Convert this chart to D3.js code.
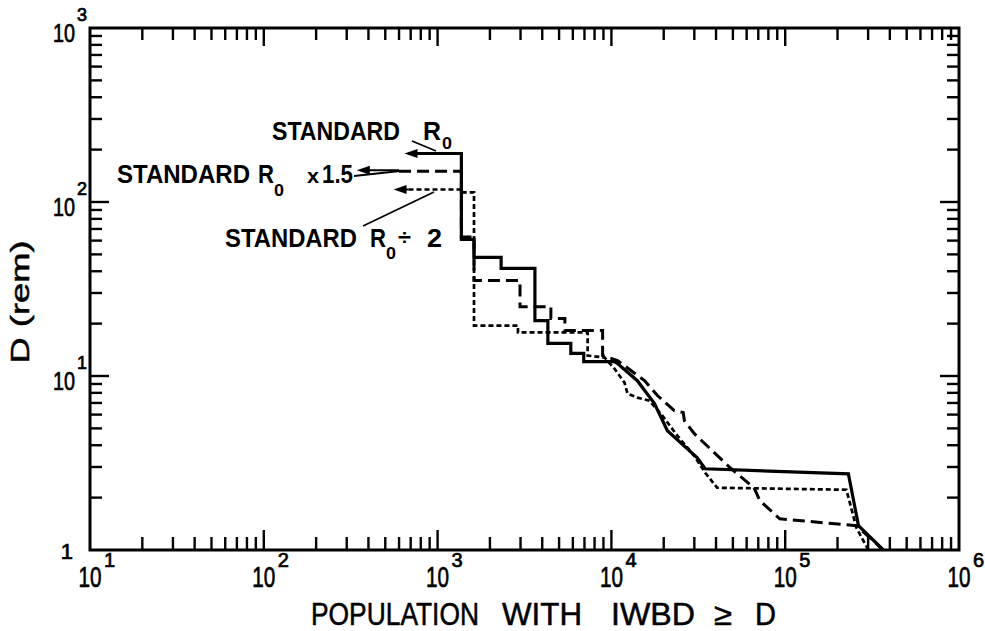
<!DOCTYPE html>
<html><head><meta charset="utf-8">
<script src="https://cdn.jsdelivr.net/npm/d3@7"></script>
<style>body{margin:0;background:#fff}text{font-family:"Liberation Sans",Arial,sans-serif;fill:#000}</style>
</head><body>
<svg id="c" width="985" height="631"></svg>
<script>
// ---- data ----
// STANDARD R0 (solid)
const popR0  = [680,1370,1370,1620,1620,2320,2320,3630,3630,4310,4310,5840,5840,6930,6930,10400,10850,14100,17700,21000,31200,34600,231000,264000,367000];
const doseR0 = [190,190,61,61,48,48,41.5,41.5,20.8,20.8,15.4,15.4,13.5,13.5,12.1,12.1,11.8,9.4,6.94,4.85,3.39,2.93,2.74,1.38,1.0];
// STANDARD R0 x1.5 (dashed)
const popR15  = [600,1370,1370,1620,1620,2980,2980,4485,4485,5400,5400,8900,8900,10850,15500,18400,23000,25900,26300,30000,48200,66100,71500,93100,257000,367000];
const doseR15 = [150,150,63,63,35.4,35.4,25,25,21.4,21.4,18.25,18.25,13.1,12.27,9.41,7.72,6.32,6.16,5.54,4.66,2.97,2.28,1.92,1.51,1.38,1.0];
// STANDARD R0 / 2 (dotted)
const popR2  = [680,1370,1370,1620,1620,2900,2900,7300,7300,9140,10430,11900,12380,14100,16550,19640,23950,29960,34640,40570,225000,257000,301000];
const doseR2 = [118,118,113.7,113.7,19.5,19.5,17.8,17.8,13.1,12.76,11.0,9.16,7.92,7.51,7.22,5.92,4.54,3.48,2.78,2.28,2.22,1.34,1.0];
// arrow tips of the labels (population)
const arrowTipPop = [645, 343, 558];
const arrowDose   = [190, 152, 118];
const arrowEndPop = [680, 600, 680];
// axis ticks
const xExponents = [1,2,3,4,5,6];
const yExponents = [1,2,3];
const xTitleWords = ["POPULATION","WITH","IWBD","\u2265","D"];
const yTitle = "D (rem)";

// ---- chart ----
const svg = d3.select('#c');
const L=90, R=959, T=28, B=550;
const x = d3.scaleLog().domain([10,1e6]).range([L,R]);
const y = d3.scaleLog().domain([1,1000]).range([B,T]);

const isMajor = v => Math.abs(Math.log10(v) - Math.round(Math.log10(v))) < 1e-9;
const g = svg.append('g');

// ticks
x.ticks().forEach(v=>{
  if (v<=10 || v>=1e6) return;
  const len = isMajor(v)?20:13;
  const px = x(v);
  g.append('line').attr('x1',px).attr('x2',px).attr('y1',B).attr('y2',B-len).attr('stroke','#000').attr('stroke-width',2.4);
  g.append('line').attr('x1',px).attr('x2',px).attr('y1',T).attr('y2',T+(isMajor(v)?18:12)).attr('stroke','#000').attr('stroke-width',2.4);
});
y.ticks().forEach(v=>{
  if (v<=1 || v>=1000) return;
  const len = isMajor(v)?19:12;
  const py = y(v);
  g.append('line').attr('x1',L).attr('x2',L+len).attr('y1',py).attr('y2',py).attr('stroke','#000').attr('stroke-width',2.4);
  g.append('line').attr('x1',R).attr('x2',R-len).attr('y1',py).attr('y2',py).attr('stroke','#000').attr('stroke-width',2.4);
});
// frame
g.append('rect').attr('x',L).attr('y',T).attr('width',R-L).attr('height',B-T)
  .attr('fill','none').attr('stroke','#000').attr('stroke-width',3);

// tick labels
const tl = g.append('g').attr('stroke','#000').attr('stroke-width',0.7);
xExponents.forEach(e=>{
  const px = x(Math.pow(10,e));
  tl.append('text').attr('x',px).attr('y',587).attr('text-anchor','middle')
   .attr('font-size',29).attr('textLength',23).attr('lengthAdjust','spacingAndGlyphs').text('10');
  tl.append('text').attr('x',px+14).attr('y',567).attr('font-size',20).text(String(e));
});
yExponents.forEach(e=>{
  const py = y(Math.pow(10,e));
  tl.append('text').attr('x',75).attr('y',py+14).attr('text-anchor','end')
   .attr('font-size',26).attr('textLength',22).attr('lengthAdjust','spacingAndGlyphs').text('10');
  tl.append('text').attr('x',77).attr('y',py-7).attr('font-size',18).text(String(e));
});
tl.append('text').attr('x',73).attr('y',y(1)+9).attr('text-anchor','end').attr('font-size',22).text('1');

// axis titles
const xtPos = [[311,168],[502,80],[611,84],[714,18],[755,21]];
xTitleWords.forEach((w,i)=>{
  g.append('text').attr('x',xtPos[i][0]).attr('y',625).attr('font-size',31)
   .attr('stroke','#000').attr('stroke-width',0.5)
   .attr('textLength',xtPos[i][1]).attr('lengthAdjust','spacingAndGlyphs').text(w);
});
g.append('text').attr('transform','translate(29,302) rotate(-90)').attr('text-anchor','middle')
  .attr('font-size',26).attr('stroke','#000').attr('stroke-width',0.5)
  .attr('textLength',123).attr('lengthAdjust','spacingAndGlyphs').text(yTitle);

// curves
const line = d3.line().x(d=>x(d[0])).y(d=>y(d[1]));
const series = [
  {pop:popR0, dose:doseR0, dash:null, w:3.2},
  {pop:popR15, dose:doseR15, dash:'12,6', w:3},
  {pop:popR2, dose:doseR2, dash:'5,3', w:2.7}
];
series.forEach(s=>{
  const pts = s.pop.map((p,i)=>[p,s.dose[i]]);
  const p = g.append('path').attr('d',line(pts)).attr('fill','none').attr('stroke','#000')
    .attr('stroke-width',s.w).attr('stroke-linejoin','miter');
  if (s.dash) p.attr('stroke-dasharray',s.dash);
});

// arrows
arrowTipPop.forEach((tp,i)=>{
  const tx = x(tp), ty = y(arrowDose[i]), ex = x(arrowEndPop[i]);
  g.append('line').attr('x1',tx+8).attr('x2',ex).attr('y1',ty).attr('y2',ty).attr('stroke','#000').attr('stroke-width',2);
  g.append('path').attr('d',`M${tx},${ty}L${tx+13},${ty-4.5}L${tx+13},${ty+4.5}Z`).attr('fill','#000');
});

// labels
const lab = (txt,xx,yy,opts={})=>{
  const t = g.append('text').attr('x',xx).attr('y',yy).attr('font-size',opts.fs||25)
    .attr('font-weight','bold').text(txt);
  if (opts.len) t.attr('textLength',opts.len).attr('lengthAdjust','spacingAndGlyphs');
  return t;
};
// STANDARD R0
lab('STANDARD',272,140,{len:128});
lab('R',423,140,{len:18});
lab('0',442,149,{fs:17,len:10});
// STANDARD R0 x1.5
lab('STANDARD',117,183,{len:133});
lab('R',258,183,{len:16});
lab('0',274,196,{fs:17,len:10});
lab('x',307,183,{fs:20,len:12});
lab('1.5',322,183,{len:31});
// STANDARD R0 ÷ 2
lab('STANDARD',225,247,{len:132});
lab('R',370,247,{len:16});
lab('0',386,259,{fs:17,len:10});
lab('\u00f7',398,245,{fs:22,len:13});
lab('2',427,247,{len:15});

// leader lines
const lead = (x1,y1,x2,y2)=>g.append('line').attr('x1',x1).attr('y1',y1).attr('x2',x2).attr('y2',y2)
  .attr('stroke','#000').attr('stroke-width',1.8);
lead(412,141,436,151);
lead(354,176,400,171);
lead(363,226,434,192);
</script>
</body></html>
